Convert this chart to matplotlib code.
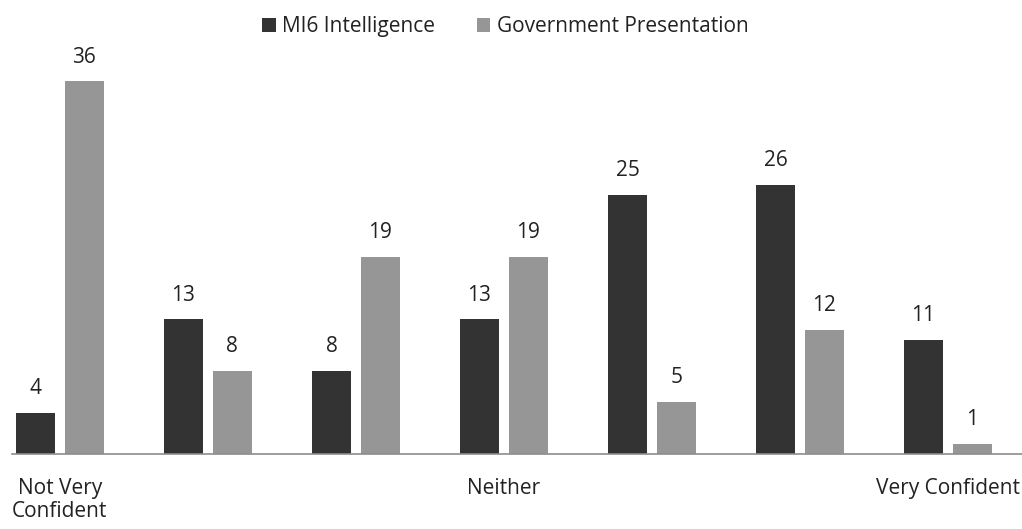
import matplotlib
matplotlib.use('Agg')
import matplotlib.pyplot as plt
import numpy as np

categories = ['Not Very\nConfident', '', '', 'Neither', '', '', 'Very Confident']
mi6 = [4, 13, 8, 13, 25, 26, 11]
gov = [36, 8, 19, 19, 5, 12, 1]
series_names = ['MI6 Intelligence', 'Government Presentation']

plt.rcParams['font.family'] = ['Open Sans', 'DejaVu Sans']

fig = plt.figure(figsize=(10.22, 5.29), dpi=100)
ax = fig.add_axes([0.0117, 0.1418, 0.9883, 0.7826])

x = np.arange(len(categories))
w = 0.264
off = 0.1655
b1 = ax.bar(x - off, mi6, w, color='#333333', label=series_names[0])
b2 = ax.bar(x + off, gov, w, color='#969696', label=series_names[1])

for bars, vals in [(b1, mi6), (b2, gov)]:
    for rect, v in zip(bars, vals):
        ax.annotate(str(v), (rect.get_x() + rect.get_width() / 2, rect.get_height()),
                    xytext=(0, 10), textcoords='offset points',
                    ha='center', va='bottom', fontsize=15, color='#222222')

ax.set_xlim(-0.324, 6.5)
ax.set_ylim(0, 40)
ax.set_xticks(x)
ax.set_xticklabels(categories, fontsize=15, color='#222222', linespacing=1.15)
ax.tick_params(axis='x', length=0, pad=17)
ax.set_yticks([])
for s in ['top', 'right', 'left']:
    ax.spines[s].set_visible(False)
ax.spines['bottom'].set_color('#8c8c8c')
ax.spines['bottom'].set_linewidth(1.2)

fig.legend(loc='upper center', bbox_to_anchor=(0.4946, 1.005), ncol=2, frameon=False,
           fontsize=15, handlelength=0.65, handleheight=0.65, handletextpad=0.3,
           columnspacing=2.0, labelcolor='#222222')

fig.savefig('out.png', dpi=100)
